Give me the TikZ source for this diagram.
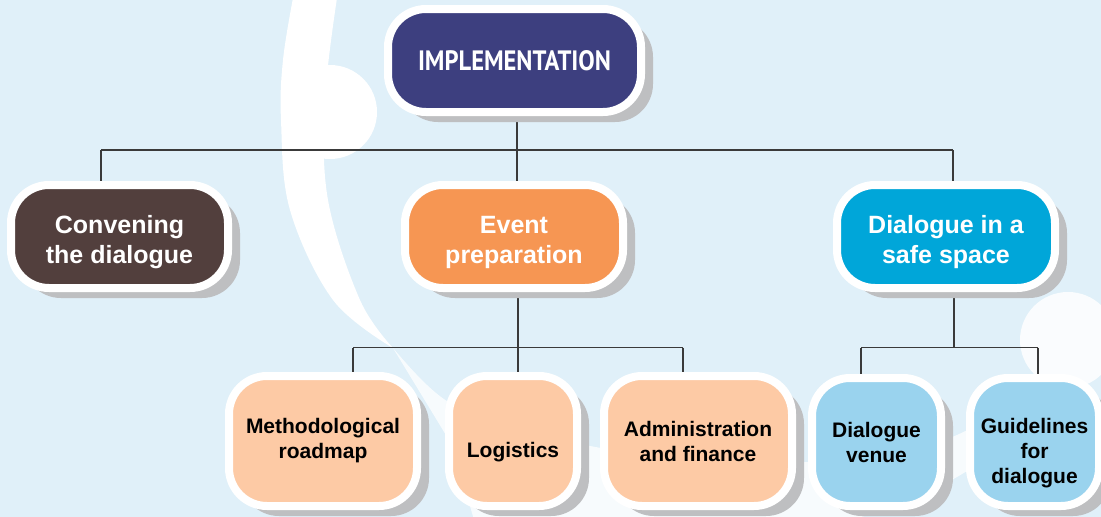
\documentclass[tikz,border=0pt]{standalone}
\usepackage{fontspec}
\setmainfont{Liberation Sans}
\newfontfamily\condfont{PT Sans}
\usetikzlibrary{shadows,backgrounds}
\definecolor{skybg}{HTML}{E0F0F9}
\definecolor{implblue}{HTML}{3D3F7F}
\definecolor{convbrown}{HTML}{523F3D}
\definecolor{eventorange}{HTML}{F69653}
\definecolor{safecyan}{HTML}{00A6D9}
\definecolor{lightorange}{HTML}{FDCAA5}
\definecolor{lightblue}{HTML}{9AD3EE}
\definecolor{shadowgray}{HTML}{BEBFC1}
\definecolor{linegray}{HTML}{3A3A3A}

\begin{document}
\begin{tikzpicture}[x=1pt,y=-1pt]
	\tikzstyle{box}=[draw=white, line width=8pt, rounded corners=38pt, align=center, inner sep=0pt, drop shadow={shadow xshift=12pt, shadow yshift=-10pt, fill=shadowgray, opacity=1}]
	\tikzstyle{midbox}=[box, minimum height=103pt, text=white, font=\bfseries\fontsize{25}{30.5}\selectfont]
	\tikzstyle{leafbox}=[box, minimum height=130pt, text=black, font=\bfseries\fontsize{21}{25}\selectfont]
	\tikzstyle{link}=[draw=linegray, line width=1.1pt]
	\newcommand\Ytop{60.5}
	\newcommand\Ymid{236.5}
	\newcommand\Yleaf{441}
	\newcommand\Ybusa{150}
	\newcommand\Ybusb{347.5}
	\newcommand\midlift{\rule{0pt}{29pt}}
	\newcommand\leaflift{\rule{0pt}{37pt}}

	\useasboundingbox (0,0) rectangle (1101,517);

	% Background
	\begin{pgfonlayer}{background}
		\fill [skybg] (0,0) rectangle (1101,517);
		\fill [white] plot [smooth, tension=0.6] coordinates {(293,-2) (283,60) (281,120) (290,210) (333,300) (393,348)} -- plot [smooth, tension=0.6] coordinates {(393,348) (360,300) (328,200) (325,100) (337,-2)} -- cycle;
		\fill [white] (330,112) circle (47);
		\fill [white, opacity=0.75] (393,348) .. controls (420,380) and (440,400) .. (460,408) .. controls (560,450) and (700,470) .. (850,460) .. controls (950,450) and (1000,420) .. (1030,375) -- (1050,390) .. controls (1000,470) and (900,520) .. (750,540) -- (480,540) -- (452,445) -- cycle;
		\fill [white, opacity=0.85] (1068,340) circle (48);
	\end{pgfonlayer}

	% Top
	\node [box, fill=implblue, text=white, minimum width=253pt, minimum height=103pt] at (514.5,\Ytop) (impl) {\resizebox{193pt}{20pt}{\condfont\bfseries IMPLEMENTATION}};

	% Second level
	\node [midbox, fill=convbrown, minimum width=217pt] at (119.5,\Ymid) (conv) {\midlift Convening\\the dialogue};
	\node [midbox, fill=eventorange, minimum width=218pt] at (514,\Ymid) (event) {\midlift Event\\preparation};
	\node [midbox, fill=safecyan, minimum width=218pt] at (946,\Ymid) (safe) {\midlift Dialogue in a\\safe space};

	% Leaves
	\node [leafbox, fill=lightorange, minimum width=188pt] at (323,\Yleaf) (method) {Methodological\\roadmap};
	\node [leafbox, fill=lightorange, minimum width=128pt] at (513,\Yleaf) (logis) {\leaflift Logistics};
	\node [leafbox, fill=lightorange, minimum width=188pt] at (698,\Yleaf) (admin) {Administration\\and finance};
	\node [leafbox, fill=lightblue, minimum width=129pt, minimum height=128pt] at (876.5,442) (venue) {Dialogue\\venue};
	\node [leafbox, fill=lightblue, minimum width=129pt, minimum height=128pt] at (1034.5,442) (guide) {\leaflift Guidelines\\for\\dialogue};

	% Bus points
	\coordinate (topL) at (101,\Ybusa);
	\coordinate (topM) at (517,\Ybusa);
	\coordinate (topR) at (953,\Ybusa);
	\coordinate (evL) at (353,\Ybusb);
	\coordinate (evM) at (518,\Ybusb);
	\coordinate (evR) at (683,\Ybusb);
	\coordinate (sfL) at (861,\Ybusb);
	\coordinate (sfM) at (954,\Ybusb);
	\coordinate (sfR) at (1038,\Ybusb);

	% Path lines
	\begin{pgfonlayer}{background}
		\path [link] (topM |- impl) -- (topM);
		\path [link] (topL) -- (topR);
		\path [link] (topL) -- (topL |- conv);
		\path [link] (topM) -- (topM |- event);
		\path [link] (topR) -- (topR |- safe);

		\path [link] (evM |- event) -- (evM);
		\path [link] (evL) -- (evR);
		\path [link] (evL) -- (evL |- method);
		\path [link] (evM) -- (evM |- logis);
		\path [link] (evR) -- (evR |- admin);

		\path [link] (sfM |- safe) -- (sfM);
		\path [link] (sfL) -- (sfR);
		\path [link] (sfL) -- (sfL |- venue);
		\path [link] (sfR) -- (sfR |- guide);
	\end{pgfonlayer}
\end{tikzpicture}
\end{document}
